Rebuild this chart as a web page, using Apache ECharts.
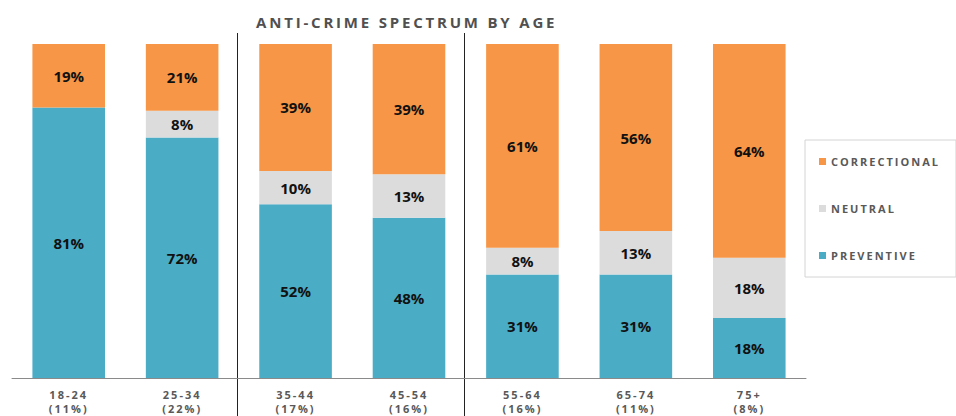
<!DOCTYPE html>
<html>
<head>
<meta charset="utf-8">
<script src="https://cdn.jsdelivr.net/npm/echarts@6/dist/echarts.min.js"></script>
<style>
  html, body { margin: 0; padding: 0; background: #fff; }
  #chart { width: 956px; height: 416px; }
  /* spaced-out capitals for title, axis and legend text */
  #chart text[fill="#595959"] { letter-spacing: 2px; }
  #chart text[fill="#505050"] { letter-spacing: 2.8px; }
</style>
</head>
<body>
<div id="chart"></div>
<script>
// Age groups and their share of respondents
const categories = ['18-24', '25-34', '35-44', '45-54', '55-64', '65-74', '75+'];
const shares = ['11%', '22%', '17%', '16%', '16%', '11%', '8%'];

// Percent of each age group on the anti-crime spectrum
const preventive   = [81, 72, 52, 48, 31, 31, 18];
const neutral      = [0, 8, 10, 13, 8, 13, 18];
const correctional = [19, 21, 39, 39, 61, 56, 64];

// Vertical dividers are drawn after these category indices
const dividerAfter = [1, 3];

const FONT = "'Open Sans', 'Liberation Sans', sans-serif";

const chart = echarts.init(document.getElementById('chart'), null, { renderer: 'svg' });

function segment(name, data, color) {
  return {
    name: name,
    type: 'bar',
    stack: 'total',
    data: data,
    barCategoryGap: '36%',
    itemStyle: { color: color },
    label: {
      show: true,
      position: 'inside',
      formatter: p => (p.value > 0 ? p.value + '%' : ''),
      color: '#111111',
      fontFamily: FONT,
      fontWeight: 'bold',
      fontSize: 15
    },
    emphasis: { disabled: true }
  };
}

chart.setOption({
  animation: false,
  backgroundColor: '#ffffff',
  title: {
    text: 'ANTI-CRIME SPECTRUM BY AGE',
    left: 251,
    top: 9,
    textStyle: { color: '#505050', fontFamily: FONT, fontWeight: 'bold', fontSize: 15 }
  },
  legend: {
    orient: 'vertical',
    left: 805,
    top: 140,
    data: ['CORRECTIONAL', 'NEUTRAL', 'PREVENTIVE'],
    itemWidth: 7,
    itemHeight: 7,
    itemGap: 36,
    icon: 'rect',
    padding: [16, 40, 16, 14],
    borderColor: '#d4d4d4',
    borderWidth: 1,
    textStyle: { color: '#595959', fontFamily: FONT, fontWeight: 'bold', fontSize: 11 },
    selectedMode: false
  },
  grid: { left: 12, right: 150, top: 44, bottom: 38, outerBoundsMode: 'none' },
  xAxis: {
    type: 'category',
    data: categories,
    axisLine: { lineStyle: { color: '#8a8a8a', width: 1 } },
    axisTick: { show: false },
    axisLabel: {
      interval: 0,
      margin: 9,
      color: '#595959',
      fontFamily: FONT,
      fontWeight: 'bold',
      fontSize: 11,
      lineHeight: 14,
      formatter: (v, i) => v + '\n(' + shares[i] + ')'
    }
  },
  yAxis: {
    type: 'value',
    min: 0,
    max: 100,
    show: false,
    splitLine: { show: false }
  },
  series: [
    segment('PREVENTIVE', preventive, '#4bacc6'),
    segment('NEUTRAL', neutral, '#dcdcdc'),
    segment('CORRECTIONAL', correctional, '#f79646')
  ]
});

// Divider lines between age bands, placed at category boundaries
const dividers = dividerAfter.map(i => {
  const a = chart.convertToPixel({ xAxisIndex: 0 }, categories[i]);
  const b = chart.convertToPixel({ xAxisIndex: 0 }, categories[i + 1]);
  const x = Math.floor((a + b) / 2) - 0.5;
  return {
    type: 'line',
    shape: { x1: x, y1: 33, x2: x, y2: 416 },
    style: { stroke: '#222222', lineWidth: 1 },
    silent: true
  };
});
chart.setOption({ graphic: dividers });
</script>
</body>
</html>
